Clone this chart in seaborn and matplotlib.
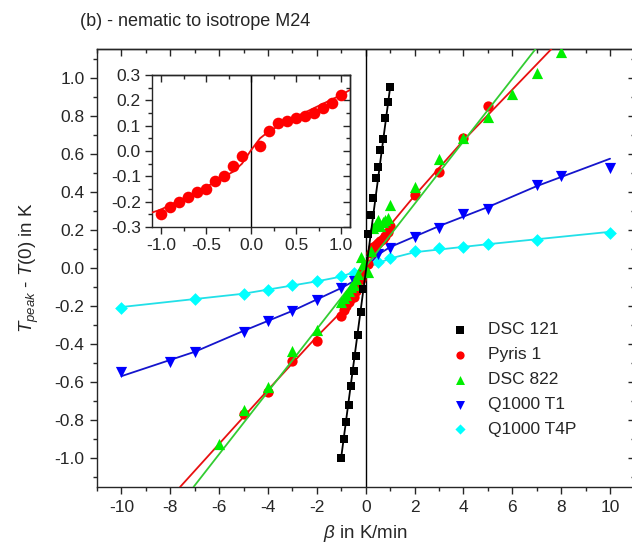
import numpy as np
import pandas as pd
import matplotlib
matplotlib.use('Agg')
import matplotlib.pyplot as plt
from matplotlib.ticker import MultipleLocator, FormatStrFormatter
import seaborn as sns

# heating rate beta (K/min) and peak shift T_peak - T(0) (K)
b_dsc121 = [-1.0, -0.9, -0.8, -0.7, -0.6, -0.5, -0.4, -0.3, -0.2, -0.1,
            0.1, 0.2, 0.3, 0.4, 0.5, 0.6, 0.7, 0.8, 0.9, 1.0]
t_dsc121 = [-1.0, -0.90, -0.81, -0.72, -0.62, -0.54, -0.46, -0.35, -0.23, -0.11,
            0.18, 0.28, 0.37, 0.47, 0.53, 0.62, 0.68, 0.79, 0.87, 0.95]

b_pyris = [-5, -4, -3, -2,
           -1.0, -0.9, -0.8, -0.7, -0.6, -0.5, -0.4, -0.3, -0.2, -0.1,
           0.1, 0.2, 0.3, 0.4, 0.5, 0.6, 0.7, 0.8, 0.9, 1.0,
           2, 3, 4, 5]
t_pyris = [-0.765, -0.653, -0.489, -0.381,
           -0.25, -0.22, -0.20, -0.18, -0.16, -0.15, -0.12, -0.10, -0.06, -0.02,
           0.02, 0.08, 0.11, 0.12, 0.13, 0.14, 0.15, 0.17, 0.19, 0.22,
           0.384, 0.502, 0.683, 0.853]

b_dsc822 = [-6, -5, -4, -3, -2,
            -1.0, -0.9, -0.8, -0.7, -0.6, -0.5, -0.4, -0.3, -0.2, -0.1,
            0.1, 0.2, 0.3, 0.4, 0.5, 0.6, 0.7, 0.8, 0.9, 1.0,
            2, 3, 4, 5, 6, 7, 8]
t_dsc822 = [-0.924, -0.744, -0.626, -0.437, -0.323,
            -0.18, -0.16, -0.14, -0.12, -0.10, -0.09, -0.06, -0.03, 0.06, 0.02,
            -0.02, 0.09, 0.21, 0.23, 0.25, 0.22, 0.24, 0.25, 0.26, 0.33,
            0.426, 0.572, 0.684, 0.791, 0.914, 1.023, 1.133]

b_t1 = [-10, -8, -7, -5, -4, -3, -2, -1, -0.5, 0.5, 1, 2, 3, 4, 5, 7, 8, 10]
t_t1 = [-0.546, -0.495, -0.442, -0.335, -0.279, -0.226, -0.170, -0.104, -0.068,
        0.075, 0.107, 0.163, 0.212, 0.286, 0.309, 0.437, 0.481, 0.525]

b_t4p = [-10, -7, -5, -4, -3, -2, -1, -0.5, 0.5, 1, 2, 3, 4, 5, 7, 10]
t_t4p = [-0.209, -0.165, -0.139, -0.116, -0.091, -0.068, -0.041, -0.025,
         0.03, 0.054, 0.089, 0.104, 0.111, 0.125, 0.147, 0.183]

# fit curves
fb_dsc121 = [-1.0, 1.0]
ft_dsc121 = [-0.99, 0.95]
fb_pyris = [-7.6, -4, -2, -1.1, -1.0, -0.5, -0.2, -0.1, 0, 0.1, 0.2, 0.5, 1.0, 1.1, 2, 4, 7.6]
ft_pyris = [-1.15, -0.64, -0.36, -0.243, -0.231, -0.142, -0.082, -0.05, 0.003, 0.05, 0.078,
            0.135, 0.221, 0.241, 0.38, 0.67, 1.15]
fb_dsc822 = [-7.05, 6.95]
ft_dsc822 = [-1.15, 1.15]
fb_t1 = [-10, -7, -5, -3, -1, -0.5, 0, 0.5, 1, 3, 5, 7, 10]
ft_t1 = [-0.568, -0.44, -0.33, -0.225, -0.105, -0.07, 0.0, 0.07, 0.11, 0.22, 0.32, 0.43, 0.574]
fb_t4p = [-10, -5, -2, -1, 0, 1, 2, 5, 10]
ft_t4p = [-0.205, -0.135, -0.07, -0.045, 0.0, 0.05, 0.083, 0.125, 0.19]

series = [
    ('DSC 121', b_dsc121, t_dsc121, fb_dsc121, ft_dsc121, 's', '#000000', '#000000', 40, 6),
    ('Pyris 1', b_pyris, t_pyris, fb_pyris, ft_pyris, 'o', '#ff0000', '#e81010', 55, 4),
    ('DSC 822', b_dsc822, t_dsc822, fb_dsc822, ft_dsc822, '^', '#00ee00', '#33cc33', 65, 5),
    ('Q1000 T1', b_t1, t_t1, fb_t1, ft_t1, 'v', '#0000ff', '#1515cc', 65, 3),
    ('Q1000 T4P', b_t4p, t_t4p, fb_t4p, ft_t4p, 'D', '#00ffff', '#22e0e8', 42, 2),
]

sns.set_style('ticks')
plt.rcParams['font.family'] = ['Liberation Sans', 'DejaVu Sans']
plt.rcParams['mathtext.fontset'] = 'custom'
plt.rcParams['mathtext.rm'] = 'Liberation Sans'
plt.rcParams['mathtext.it'] = 'Liberation Sans:italic'
plt.rcParams['axes.linewidth'] = 1.0
plt.rcParams['axes.unicode_minus'] = False
fs = 12.5

fig = plt.figure(figsize=(6.32, 5.47), dpi=100)
ax = fig.add_axes([97 / 632, 60 / 547, 537.5 / 632, 438 / 547])

ax.axvline(0, color='black', lw=1.0, zorder=1)
for name, b, t, fb, ft, mk, mc, lc, s, z in series:
    sns.lineplot(x=fb, y=ft, sort=False, estimator=None, color=lc, lw=1.3, ax=ax, zorder=z)
    sns.scatterplot(x=b, y=t, marker=mk, color=mc, s=s, linewidth=0, label=name, ax=ax, zorder=z)

ax.set_xlim(-11, 11)
ax.set_ylim(-1.15, 1.15)
ax.xaxis.set_major_locator(MultipleLocator(2))
ax.xaxis.set_minor_locator(MultipleLocator(1))
ax.yaxis.set_major_locator(MultipleLocator(0.2))
ax.yaxis.set_minor_locator(MultipleLocator(0.1))
ax.yaxis.set_major_formatter(FormatStrFormatter('%.1f'))
ax.tick_params(which='major', direction='out', length=5, width=1, labelsize=fs, pad=4)
ax.tick_params(which='minor', direction='out', length=3, width=1)

secx = ax.secondary_xaxis('top')
secx.xaxis.set_major_locator(MultipleLocator(2))
secx.xaxis.set_minor_locator(MultipleLocator(1))
secx.tick_params(which='major', direction='in', length=5, width=1, labeltop=False)
secx.tick_params(which='minor', direction='in', length=3, width=1)
secy = ax.secondary_yaxis('right')
secy.yaxis.set_major_locator(MultipleLocator(0.2))
secy.yaxis.set_minor_locator(MultipleLocator(0.1))
secy.tick_params(which='major', direction='in', length=5, width=1, labelright=False)
secy.tick_params(which='minor', direction='in', length=3, width=1)

ax.set_xlabel(r'$\beta$ in K/min', fontsize=13.5, labelpad=6)
ax.set_ylabel(r'$T_{peak}$ - $T$(0) in K', fontsize=13.5, labelpad=10)

ax.legend(loc='upper left', bbox_to_anchor=(0.66, 0.376), frameon=False,
          handlelength=1.0, handletextpad=1.1, borderpad=0, borderaxespad=0,
          labelspacing=0.56, fontsize=fs, markerscale=0.8)

fig.text(80 / 632, 1 - 22 / 547, '(b) - nematic to isotrope M24', fontsize=13, va='center')

# inset: Pyris 1 at small heating rates
df = pd.DataFrame({'beta': b_pyris, 'shift': t_pyris})
small = df[df['beta'].abs() <= 1.0]
axi = fig.add_axes([152 / 632, 1 - 227 / 547, 198 / 632, 152 / 547])
axi.axvline(0, color='black', lw=1.0, zorder=1)
sns.lineplot(x=fb_pyris, y=ft_pyris, sort=False, estimator=None, color='#e81010', lw=1.3, ax=axi, zorder=3)
sns.scatterplot(data=small, x='beta', y='shift', marker='o', color='#ff0000', s=70, linewidth=0, ax=axi, zorder=4)
axi.set_xlim(-1.1, 1.1)
axi.set_ylim(-0.3, 0.3)
axi.set_xlabel('')
axi.set_ylabel('')
axi.xaxis.set_major_locator(MultipleLocator(0.5))
axi.xaxis.set_minor_locator(MultipleLocator(0.25))
axi.yaxis.set_major_locator(MultipleLocator(0.1))
axi.yaxis.set_minor_locator(MultipleLocator(0.05))
axi.xaxis.set_major_formatter(FormatStrFormatter('%.1f'))
axi.yaxis.set_major_formatter(FormatStrFormatter('%.1f'))
axi.tick_params(which='major', direction='out', length=5, width=1, labelsize=fs, pad=3)
axi.tick_params(which='minor', direction='out', length=3, width=1)
isx = axi.secondary_xaxis('top')
isx.xaxis.set_major_locator(MultipleLocator(0.5))
isx.xaxis.set_minor_locator(MultipleLocator(0.25))
isx.tick_params(which='major', direction='in', length=5, width=1, labeltop=False)
isx.tick_params(which='minor', direction='in', length=3, width=1)
isy = axi.secondary_yaxis('right')
isy.yaxis.set_major_locator(MultipleLocator(0.1))
isy.yaxis.set_minor_locator(MultipleLocator(0.05))
isy.tick_params(which='major', direction='in', length=5, width=1, labelright=False)
isy.tick_params(which='minor', direction='in', length=3, width=1)

fig.savefig('out.png', dpi=100)
